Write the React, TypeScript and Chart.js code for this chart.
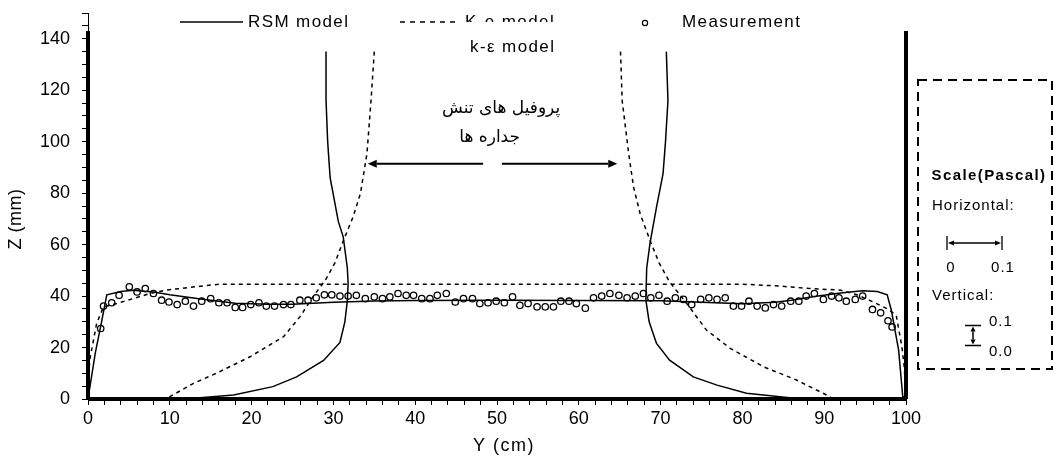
import React, { useEffect, useRef } from 'react';
import { Chart, registerables } from 'chart.js';

Chart.register(...registerables);

// ---------- data ----------
const rsmFloorY = [0, 0.9, 1.6, 2.3, 4, 5.5, 8, 10, 14, 18, 22, 25, 30, 35, 40, 50, 60, 70, 75, 80, 84, 86, 88.6, 92, 94.7, 96.5, 97.7, 98.2, 99.1, 99.6, 100];
const rsmFloorZ = [0, 18, 29, 40.5, 41.8, 42.3, 41.6, 40.5, 38.8, 37.2, 36.8, 36.8, 37.6, 38.1, 38.3, 38.4, 38.3, 38.2, 37.6, 37.0, 37.6, 38.4, 39.7, 41.2, 42.1, 41.8, 40.5, 34.6, 19, 1, 0];

const keFloorY = [0, 0.2, 1.06, 1.9, 3.5, 5.5, 7.6, 9.5, 13.7, 16, 30, 50, 70, 80, 84, 88, 92, 94, 96, 97.6, 98.8, 99.5, 99.8, 100];
const keFloorZ = [0, 15, 29.4, 35.8, 37.1, 39, 41, 42.3, 43.8, 44.6, 44.6, 44.6, 44.6, 44.6, 44, 43, 42.3, 40.5, 37.7, 35.2, 32.6, 20.3, 12, 0];

const rsmLeftWallY = [29.1, 29.1, 29.3, 29.6, 30.6, 31.2, 31.7, 31.8, 31.7, 31.4, 30.8, 28.8, 25.5, 22.6, 17.8, 13.7, 9.6];
const rsmLeftWallZ = [135, 116, 100, 86, 69, 63, 51, 45, 38, 30, 22, 15, 8.6, 4.8, 1.6, 0.5, 0];

const rsmRightWallY = [70.7, 70.9, 70.6, 70.3, 69.5, 68.7, 68.3, 68.2, 68.6, 69.5, 71.1, 74, 76.9, 80.5, 84.6, 87.3];
const rsmRightWallZ = [135, 116, 100, 87.6, 74.6, 60.5, 50.8, 38.4, 30, 21.6, 15.1, 8.6, 5.4, 2.2, 0.9, 0];

const keLeftWallY = [35.0, 34.6, 34.1, 33.3, 32.4, 31.4, 30.2, 29.0, 27.5, 25.9, 23.9, 19.8, 15.7, 12.9, 10.0, 9.5];
const keLeftWallZ = [135, 116, 95.3, 79.8, 70.7, 63, 53, 46.1, 39.7, 31.9, 24.2, 16.4, 10, 6.1, 0.9, 0];

const keRightWallY = [65.1, 65.3, 66.1, 66.7, 67.5, 68.7, 69.8, 71.1, 73.2, 75.6, 78.5, 82.6, 86.6, 90.7, 91];
const keRightWallZ = [135, 116, 95.3, 82.3, 72, 61.7, 53, 45.5, 37.1, 26.8, 19.7, 12.5, 7.4, 0.9, 0];

const measY = [1.55, 1.9, 2.9, 3.8, 5.05, 6.0, 7.0, 8.0, 9.0, 9.9,
  10.9, 11.9, 12.9, 13.9, 15.0, 16.0, 17.0, 18.0, 18.9, 19.9,
  20.9, 21.8, 22.8, 23.9, 24.8, 25.9, 26.9, 27.9, 28.9, 29.8,
  30.8, 31.8, 32.8, 33.9, 35.0, 36.0, 36.9, 37.9, 38.9, 39.8,
  40.8, 41.8, 42.7, 43.8, 44.9, 45.9, 47.0, 47.9, 48.9, 49.9,
  50.9, 51.9, 52.8, 53.8, 54.9, 55.9, 56.9, 57.8, 58.8, 59.7,
  60.8, 61.8, 62.8, 63.8, 64.9, 65.9, 66.9, 67.9, 68.8, 69.8,
  70.8, 71.8, 72.8, 73.8, 74.9, 75.9, 76.9, 77.9, 78.9, 79.9,
  80.8, 81.8, 82.8, 83.8, 84.8, 85.9, 86.9, 87.8, 88.8, 89.9,
  90.9, 91.8, 92.7, 93.8, 94.7, 95.9, 96.9, 97.8, 98.3];
const measZ = [27.4, 36.1, 37.4, 40.3, 43.6, 41.6, 42.9, 41, 38.4, 37.7,
  36.7, 38, 36.1, 38, 39, 37.4, 37.4, 35.6, 35.6, 36.7,
  37.4, 36.1, 36.1, 36.7, 36.7, 38.4, 38.4, 39.3, 40.5, 40.5,
  40, 40, 40.3, 39, 39.7, 39, 39.7, 41, 40.3, 40.3,
  39, 39, 40.3, 41, 37.7, 39, 39, 37.1, 37.4, 38,
  37.4, 39.7, 36.4, 37.1, 35.8, 35.8, 35.8, 38, 38, 37.1,
  35.3, 39.3, 40, 41, 40.3, 39.3, 40, 41, 39.3, 40.3,
  38, 39.3, 38.7, 36.7, 38.7, 39.3, 38.7, 39.3, 36.1, 36.1,
  38, 36.1, 35.4, 36.7, 36.1, 38, 38, 40, 41, 38.7,
  40, 39.3, 38, 38.7, 40, 34.8, 33.5, 30.4, 28];

const wallHeight = 143;
const yMin = 0, yMax = 100, zMin = 0, zMax = 150;
const xLabelEvery = 10, zLabelEvery = 20;

const xTitle = 'Y (cm)';
const yTitle = 'Z (mm)';
const legendLabels = ['RSM model', 'K-e model', 'Measurement'];
const noteModel = 'k-\u03b5 model';
const noteFa1 = 'پروفیل های تنش';
const noteFa2 = 'جداره ها';
const scaleTitle = 'Scale(Pascal)';
const scaleHoriz = 'Horizontal:';
const scaleVert = 'Vertical:';
const scaleH0 = '0', scaleH1 = '0.1', scaleV1 = '0.1', scaleV0 = '0.0';

const pts = (xs: number[], ys: number[]) => xs.map((x, i) => ({ x, y: ys[i] }));

const FONT = '"Liberation Sans", Arial, sans-serif';

function arrow(ctx: CanvasRenderingContext2D, x1: number, y1: number, x2: number, y2: number, head = 9, hw = 4) {
  const ang = Math.atan2(y2 - y1, x2 - x1);
  const bx = x2 - head * Math.cos(ang), by = y2 - head * Math.sin(ang);
  ctx.beginPath();
  ctx.moveTo(x1, y1);
  ctx.lineTo(bx, by);
  ctx.stroke();
  ctx.beginPath();
  ctx.moveTo(x2, y2);
  ctx.lineTo(bx + hw * Math.sin(ang), by - hw * Math.cos(ang));
  ctx.lineTo(bx - hw * Math.sin(ang), by + hw * Math.cos(ang));
  ctx.closePath();
  ctx.fill();
}

const overlay = {
  id: 'overlay',
  afterDraw(chart: any) {
    const ctx: CanvasRenderingContext2D = chart.ctx;
    const sx = chart.scales.x, sy = chart.scales.y;
    ctx.save();
    ctx.fillStyle = '#000';
    ctx.strokeStyle = '#000';
    ctx.textBaseline = 'middle';

    // axis titles
    ctx.font = `18px ${FONT}`;
    ctx.textAlign = 'center';
    (ctx as any).letterSpacing = '1.5px';
    ctx.fillText(xTitle, 504, 446);
    (ctx as any).letterSpacing = '0.5px';
    ctx.save();
    ctx.translate(16, 219);
    ctx.rotate(-Math.PI / 2);
    ctx.fillText(yTitle, 0, 0);
    ctx.restore();

    (ctx as any).letterSpacing = '1.4px';
    ctx.font = `17px ${FONT}`;

    // legend
    const ly = 22;
    ctx.lineWidth = 1.5;
    ctx.setLineDash([]);
    ctx.beginPath(); ctx.moveTo(180, ly); ctx.lineTo(243, ly); ctx.stroke();
    ctx.textAlign = 'left';
    ctx.fillText(legendLabels[0], 248, ly);
    ctx.setLineDash([5, 5]);
    ctx.beginPath(); ctx.moveTo(400, ly); ctx.lineTo(460, ly); ctx.stroke();
    ctx.setLineDash([]);
    ctx.fillText(legendLabels[1], 465, ly);
    // white box of the k-e label covering the lower part of the legend text
    ctx.fillStyle = '#fff';
    ctx.fillRect(458, ly, 130, 12);
    ctx.fillStyle = '#000';
    ctx.lineWidth = 1.2;
    ctx.beginPath(); ctx.arc(645, 23, 2.6, 0, Math.PI * 2); ctx.stroke();
    ctx.fillText(legendLabels[2], 682, ly);

    // k-e model note
    ctx.fillText(noteModel, sx.getPixelForValue(46.7), sy.getPixelForValue(136.5));

    // Persian notes
    (ctx as any).letterSpacing = '0px';
    ctx.font = `17px "DejaVu Sans", sans-serif`;
    ctx.textAlign = 'center';
    ctx.direction = 'rtl';
    ctx.fillText(noteFa1, sx.getPixelForValue(50.5), sy.getPixelForValue(113));
    ctx.fillText(noteFa2, sx.getPixelForValue(49.1), sy.getPixelForValue(101.5));
    ctx.direction = 'ltr';

    // arrows
    ctx.lineWidth = 2;
    const az = sy.getPixelForValue(91.4);
    arrow(ctx, sx.getPixelForValue(48.3), az, sx.getPixelForValue(34.2), az);
    arrow(ctx, sx.getPixelForValue(50.6), az, sx.getPixelForValue(64.7), az);

    // scale box
    ctx.lineWidth = 2;
    ctx.setLineDash([9, 6]);
    ctx.strokeRect(918, 80, 134, 289);
    ctx.setLineDash([]);
    (ctx as any).letterSpacing = '1.4px';
    ctx.font = `bold 15px ${FONT}`;
    ctx.textAlign = 'center';
    ctx.fillText(scaleTitle, 989, 176);
    ctx.font = `15px ${FONT}`;
    (ctx as any).letterSpacing = '1px';
    ctx.textAlign = 'left';
    ctx.fillText(scaleHoriz, 932, 206);
    ctx.fillText(scaleVert, 932, 296);
    // horizontal bracket
    ctx.lineWidth = 1.3;
    ctx.beginPath();
    ctx.moveTo(947, 236); ctx.lineTo(947, 250);
    ctx.moveTo(1002, 236); ctx.lineTo(1002, 250);
    ctx.stroke();
    ctx.lineWidth = 1.5;
    arrow(ctx, 975, 243, 948, 243, 6, 2.5);
    arrow(ctx, 975, 243, 1001, 243, 6, 2.5);
    ctx.textAlign = 'center';
    ctx.fillText(scaleH0, 951, 268);
    ctx.fillText(scaleH1, 1003, 268);
    // vertical bracket
    ctx.lineWidth = 1.3;
    ctx.beginPath();
    ctx.moveTo(965, 325.5); ctx.lineTo(981, 325.5);
    ctx.moveTo(965, 345.5); ctx.lineTo(981, 345.5);
    ctx.stroke();
    ctx.lineWidth = 1.5;
    arrow(ctx, 973, 335, 973, 326.5, 5, 2.5);
    arrow(ctx, 973, 335, 973, 344.5, 5, 2.5);
    ctx.textAlign = 'left';
    ctx.fillText(scaleV1, 989, 322);
    ctx.fillText(scaleV0, 989, 352);

    ctx.restore();
  },
};

export default function App() {
  const ref = useRef<HTMLCanvasElement>(null);
  useEffect(() => {
    if (!ref.current) return;
    const line = (data: any, dashed: boolean) => ({
      data,
      showLine: true,
      borderColor: '#000',
      borderWidth: 1.5,
      borderDash: dashed ? [4, 4] : [],
      pointRadius: 0,
      fill: false,
      clip: false as any,
    });
    const thick = (data: any) => ({
      data,
      showLine: true,
      borderColor: '#000',
      borderWidth: 4,
      pointRadius: 0,
      fill: false,
      clip: false as any,
    });
    const chart = new Chart(ref.current, {
      type: 'scatter',
      data: {
        datasets: [
          line(pts(rsmFloorY, rsmFloorZ), false),
          line(pts(rsmLeftWallY, rsmLeftWallZ), false),
          line(pts(rsmRightWallY, rsmRightWallZ), false),
          line(pts(keFloorY, keFloorZ), true),
          line(pts(keLeftWallY, keLeftWallZ), true),
          line(pts(keRightWallY, keRightWallZ), true),
          {
            data: pts(measY, measZ),
            showLine: false,
            pointRadius: 3.2,
            pointBorderWidth: 1.3,
            pointBorderColor: '#000',
            pointBackgroundColor: 'rgba(255,255,255,0)',
          } as any,
          thick([{ x: yMin, y: 0 }, { x: yMax, y: 0 }]),
          thick([{ x: yMin, y: 0 }, { x: yMin, y: wallHeight }]),
          thick([{ x: yMax, y: 0 }, { x: yMax, y: wallHeight }]),
        ],
      },
      options: {
        animation: false,
        responsive: false,
        layout: { padding: { top: 13, right: 149, left: 0, bottom: 0 } },
        plugins: { legend: { display: false }, tooltip: { enabled: false } },
        scales: {
          x: {
            type: 'linear',
            min: yMin,
            max: yMax,
            afterFit: (s: any) => { s.height = 65; },
            ticks: {
              stepSize: 2,
              autoSkip: false,
              maxRotation: 0,
              color: '#000',
              padding: 3,
              font: { size: 18, family: FONT },
              callback: (v: any) => (Number(v) % xLabelEvery === 0 ? String(v) : ''),
            },
            grid: { drawOnChartArea: false, drawTicks: true, tickLength: 6, color: '#000' },
            border: { display: true, color: '#000', width: 1 },
            title: { display: false },
          },
          y: {
            type: 'linear',
            min: zMin,
            max: zMax,
            afterFit: (s: any) => { s.width = 88; s.paddingTop = 0; s.paddingBottom = 0; },
            ticks: {
              stepSize: 5,
              autoSkip: false,
              color: '#000',
              padding: 12,
              font: { size: 18, family: FONT },
              callback: (v: any) => (Number(v) % zLabelEvery === 0 && Number(v) <= 140 ? String(v) : ''),
            },
            grid: { drawOnChartArea: false, drawTicks: true, tickLength: 6, color: '#000' },
            border: { display: true, color: '#000', width: 1 },
            title: { display: false },
          },
        },
      },
      plugins: [overlay],
    });
    return () => chart.destroy();
  }, []);
  return (
    <div style={{ position: 'absolute', left: 0, top: 0, width: 1055, height: 464, background: '#fff' }}>
      <canvas ref={ref} width={1055} height={464} style={{ width: 1055, height: 464 }} />
    </div>
  );
}
